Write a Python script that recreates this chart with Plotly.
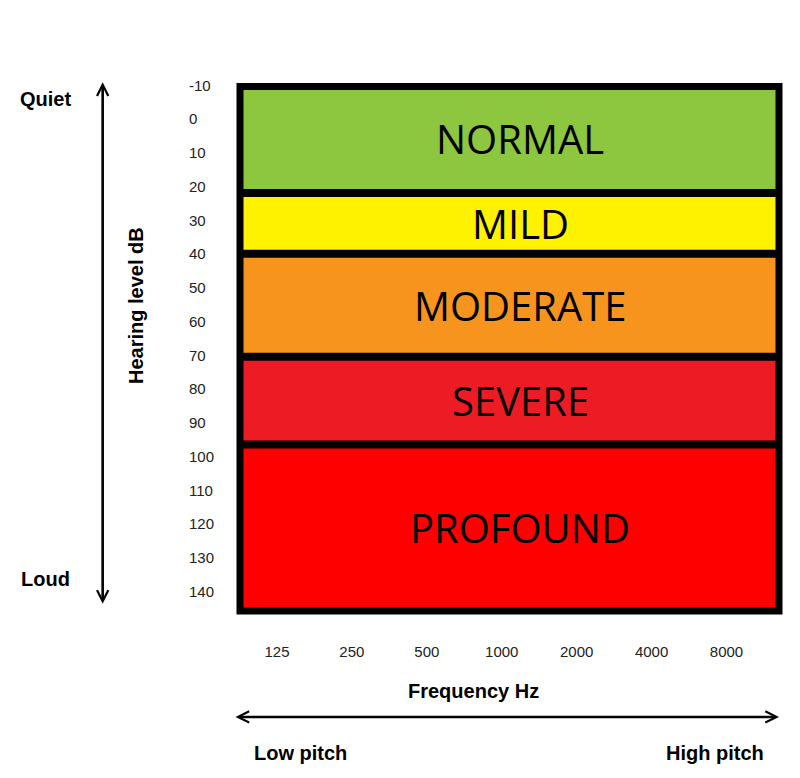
import plotly.graph_objects as go

# hearing loss bands (dB HL), top edge / bottom edge
band_names = ["NORMAL", "MILD", "MODERATE", "SEVERE", "PROFOUND"]
band_top = [-10.3, 22, 40, 70.5, 96.5]
band_bottom = [22, 40, 70.5, 96.5, 146]
band_colors = ["#8DC63F", "#FFF200", "#F7941D", "#ED1C24", "#FF0000"]

db_ticks = [-10, 0, 10, 20, 30, 40, 50, 60, 70, 80, 90, 100, 110, 120, 130, 140]
freqs = [125, 250, 500, 1000, 2000, 4000, 8000]
freq_labels = ["125", "250", "500", "1000", "2000", "4000", "8000"]

fig = go.Figure()

# invisible trace so the axes exist
fig.add_trace(go.Scatter(x=freqs, y=[None] * len(freqs), mode="markers",
                         hoverinfo="skip", showlegend=False))

shapes = []
annotations = []

# coloured bands
for name, top, bot, col in zip(band_names, band_top, band_bottom, band_colors):
    shapes.append(dict(type="rect", xref="paper", yref="y", x0=0, x1=1,
                       y0=top, y1=bot, fillcolor=col, line=dict(width=0),
                       layer="below"))
    annotations.append(dict(text=name, xref="paper", yref="y", x=0.5195,
                            y=(top + bot) / 2, showarrow=False,
                            xanchor="center", yanchor="middle",
                            font=dict(family="Open Sans", size=40, color="black")))

# black separators between bands
for edge in band_top[1:]:
    shapes.append(dict(type="line", xref="paper", yref="y", x0=0, x1=1,
                       y0=edge, y1=edge, line=dict(color="black", width=8)))

# frame round the plot
shapes.append(dict(type="rect", xref="paper", yref="paper", x0=0, x1=1, y0=0, y1=0.9953,
                   line=dict(color="black", width=7)))

# y tick labels, left aligned
for v in db_ticks:
    annotations.append(dict(text=str(v), xref="paper", yref="y", x=-0.0985, y=v,
                            xanchor="left", yanchor="middle", showarrow=False,
                            font=dict(family="Liberation Sans", size=15, color="#222")))

bold = dict(family="Liberation Sans", size=20, color="black")
annotations += [
    dict(text="<b>Quiet</b>", xref="paper", yref="paper", x=-0.4119, y=0.9715,
         xanchor="left", yanchor="middle", showarrow=False, font=bold),
    dict(text="<b>Loud</b>", xref="paper", yref="paper", x=-0.410, y=0.0607,
         xanchor="left", yanchor="middle", showarrow=False, font=bold),
    dict(text="<b>Hearing level dB</b>", xref="paper", yref="paper", x=-0.193, y=0.5806,
         xanchor="center", yanchor="middle", textangle=-90, showarrow=False, font=bold),
    dict(text="<b>Frequency Hz</b>", xref="paper", yref="paper", x=0.4341, y=-0.1518,
         xanchor="center", yanchor="middle", showarrow=False, font=bold),
    dict(text="<b>Low pitch</b>", xref="paper", yref="paper", x=0.0223, y=-0.2694,
         xanchor="left", yanchor="middle", showarrow=False, font=bold),
    dict(text="<b>High pitch</b>", xref="paper", yref="paper", x=0.9759, y=-0.2694,
         xanchor="right", yanchor="middle", showarrow=False, font=bold),
    # vertical double arrow
    dict(text="", xref="paper", yref="paper", x=-0.2548, y=1.0032, ax=0, ay=523,
         showarrow=True, arrowside="end+start", arrowhead=5, startarrowhead=5,
         arrowwidth=2.6, arrowsize=0.85, startarrowsize=0.85, arrowcolor="black"),
    # horizontal double arrow
    dict(text="", xref="paper", yref="paper", x=1.0, y=-0.2011, ax=-545, ay=0,
         showarrow=True, arrowside="end+start", arrowhead=5, startarrowhead=5,
         arrowwidth=2.6, arrowsize=0.85, startarrowsize=0.85, arrowcolor="black"),
]

fig.update_layout(
    width=784, height=762,
    margin=dict(l=232, r=13, t=76, b=159),
    paper_bgcolor="white", plot_bgcolor="white",
    shapes=shapes, annotations=annotations,
    showlegend=False,
)
fig.update_xaxes(type="log", range=[1.9484, 4.1139], tickvals=freqs, ticktext=freq_labels,
                 showgrid=False, zeroline=False, showline=False,
                 ticks="outside", ticklen=27, tickcolor="rgba(0,0,0,0)",
                 tickfont=dict(family="Liberation Sans", size=15, color="#222"))
fig.update_yaxes(range=[145.85, -10.296], showgrid=False, zeroline=False,
                 showticklabels=False, showline=False)

fig.write_html("out.html")
